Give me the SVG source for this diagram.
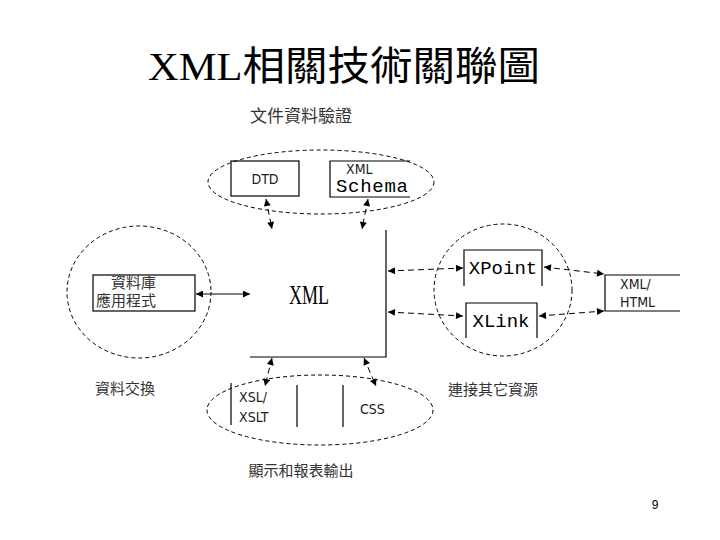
<svg xmlns="http://www.w3.org/2000/svg" width="720" height="540" viewBox="0 0 720 540">
<defs>
<marker id="ah" viewBox="0 0 10 10" refX="10" refY="5" markerWidth="9" markerHeight="7" markerUnits="userSpaceOnUse" orient="auto-start-reverse">
<path d="M0,0 L10,5 L0,10 z" fill="#000"/>
</marker>
<style>
.ln{fill:none;stroke:#000;stroke-width:1.2}
.el{fill:none;stroke:#000;stroke-width:1;stroke-dasharray:4 3}
.conn{fill:none;stroke:#000;stroke-width:1;stroke-dasharray:6 4;marker-start:url(#ah);marker-end:url(#ah)}
.solid{fill:none;stroke:#000;stroke-width:1;marker-start:url(#ah);marker-end:url(#ah)}
.cjk{font-family:"Liberation Serif","Noto Sans CJK TC",serif;font-size:15px;fill:#333}
.big{font-size:17px}
.mono{font-family:"Liberation Mono",monospace;font-size:19px;fill:#000}
.thin{font-family:"DejaVu Sans Condensed","Liberation Sans",sans-serif;font-size:14px;fill:#222}
</style>
</defs>
<rect width="720" height="540" fill="#fff"/>
<text x="148" y="80" font-family="Liberation Serif,'Noto Sans CJK TC',serif" font-size="40" fill="#000" textLength="392" lengthAdjust="spacingAndGlyphs">XML相關技術關聯圖</text>

<g id="validation">
<text class="cjk big" x="301" y="122" text-anchor="middle">文件資料驗證</text>
<ellipse class="el" cx="321" cy="182" rx="113" ry="32"/>
</g>
<g id="dtd">
<rect class="ln" x="231" y="161" width="68" height="35"/>
<text class="thin" x="265" y="184" text-anchor="middle">DTD</text>
</g>
<g id="schema">
<path class="ln" d="M410,161 H330 V197 H410"/>
<text class="thin" x="346" y="174" font-size="13">XML</text>
<text class="mono" x="336" y="192" textLength="72" lengthAdjust="spacing">Schema</text>
</g>

<g id="xml">
<path class="ln" d="M386,230 V357 H250"/>
<text x="309" y="304" text-anchor="middle" font-family="Liberation Serif,serif" font-size="28" textLength="40" lengthAdjust="spacingAndGlyphs">XML</text>
</g>

<g id="app">
<ellipse class="el" cx="139" cy="292" rx="72" ry="66"/>
<rect class="ln" x="93" y="275" width="102" height="36"/>
<text class="cjk" x="111" y="288">資料庫</text>
<text class="cjk" x="96" y="306">應用程式</text>
<text class="cjk" x="125" y="394" text-anchor="middle">資料交換</text>
</g>

<g id="link">
<ellipse class="el" cx="503" cy="290" rx="69" ry="66"/>
<path class="ln" d="M464,286 V250 H542 V286"/>
<text class="mono" x="503" y="274" text-anchor="middle">XPoint</text>
<path class="ln" d="M466,338 V303 H537 V338"/>
<text class="mono" x="501" y="327" text-anchor="middle">XLink</text>
<text class="cjk" x="493" y="395" text-anchor="middle">連接其它資源</text>
</g>

<g id="xmlhtml">
<path class="ln" d="M680,275 H605 V311 H680"/>
<text class="thin" x="620" y="289">XML/</text>
<text class="thin" x="620" y="307">HTML</text>
</g>

<g id="output">
<ellipse class="el" cx="320" cy="410" rx="113" ry="35"/>
<path class="ln" d="M231,383 V425 M297,385 V427 M343,385 V427"/>
<text class="thin" x="239" y="402">XSL/</text>
<text class="thin" x="239" y="422">XSLT</text>
<text class="thin" x="360" y="414">CSS</text>
<text class="cjk" x="301" y="476" text-anchor="middle">顯示和報表輸出</text>
</g>

<g id="connectors">
<line class="conn" x1="266" y1="199" x2="272" y2="229"/>
<line class="conn" x1="368" y1="199" x2="362" y2="229"/>
<line class="solid" x1="196" y1="294" x2="250" y2="294"/>
<line class="conn" x1="388" y1="271" x2="463" y2="268"/>
<line class="conn" x1="544" y1="267" x2="604" y2="274"/>
<line class="conn" x1="388" y1="312" x2="463" y2="316"/>
<line class="conn" x1="539" y1="316" x2="604" y2="311"/>
<line class="conn" x1="272" y1="358" x2="265" y2="386"/>
<line class="conn" x1="364" y1="358" x2="376" y2="386"/>
</g>

<text x="655" y="509" text-anchor="middle" font-family="Liberation Sans,sans-serif" font-size="12">9</text>
</svg>
